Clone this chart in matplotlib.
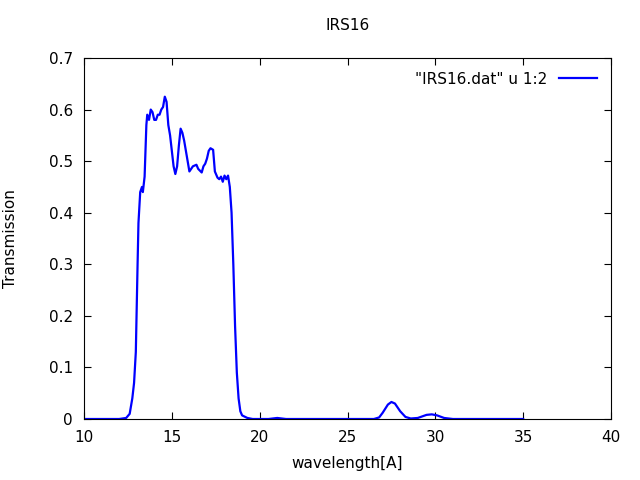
import matplotlib
matplotlib.use("Agg")
import matplotlib.pyplot as plt

wavelength = [10, 11, 12.0, 12.4, 12.6, 12.75, 12.85, 12.95, 13.05, 13.1, 13.2, 13.3, 13.35, 13.45, 13.55, 13.6, 13.7, 13.8, 13.9, 14.0, 14.1, 14.2, 14.3, 14.4, 14.5, 14.6, 14.7, 14.8, 14.9, 15.0, 15.1, 15.2, 15.3, 15.4, 15.5, 15.6, 15.7, 15.8, 15.9, 16.0, 16.1, 16.2, 16.4, 16.5, 16.7, 16.8, 16.9, 17.0, 17.1, 17.2, 17.35, 17.45, 17.6, 17.7, 17.8, 17.9, 18.0, 18.1, 18.2, 18.3, 18.4, 18.5, 18.6, 18.7, 18.8, 18.9, 19.0, 19.3, 19.6, 20.5, 21.0, 21.5, 26.5, 26.8, 27.0, 27.3, 27.5, 27.7, 28.0, 28.3, 28.6, 29.0, 29.5, 29.8, 30.1, 30.5, 31.0, 35.0]
transmission = [0, 0, 0.0, 0.002, 0.01, 0.04, 0.07, 0.13, 0.3, 0.38, 0.44, 0.45, 0.44, 0.47, 0.57, 0.59, 0.58, 0.60, 0.595, 0.58, 0.58, 0.59, 0.59, 0.60, 0.605, 0.625, 0.615, 0.57, 0.55, 0.52, 0.49, 0.475, 0.49, 0.53, 0.563, 0.555, 0.54, 0.52, 0.50, 0.48, 0.485, 0.49, 0.493, 0.485, 0.478, 0.49, 0.495, 0.505, 0.52, 0.525, 0.522, 0.48, 0.468, 0.465, 0.47, 0.46, 0.472, 0.465, 0.472, 0.45, 0.40, 0.30, 0.18, 0.09, 0.04, 0.015, 0.007, 0.002, 0.0, 0.0, 0.002, 0.0, 0.0, 0.003, 0.012, 0.028, 0.033, 0.03, 0.015, 0.004, 0.001, 0.002, 0.008, 0.009, 0.007, 0.002, 0.0, 0.0]

plt.rcParams['font.family'] = ['DejaVu Sans']
fig = plt.figure(figsize=(6.4, 4.8), dpi=100)
ax = fig.add_axes([84/640, 1-419/480, (611-84)/640, (419-58)/480])
ax.plot(wavelength, transmission, color='#0000ff', lw=1.6, label='"IRS16.dat" u 1:2')
ax.set_xlim(10, 40)
ax.set_ylim(0, 0.7)
ax.set_xticks(range(10, 41, 5))
ax.set_yticks([i/10 for i in range(8)])
ax.set_yticklabels(['0'] + [f'{i/10:.1f}' for i in range(1, 8)])
ax.tick_params(direction='in', top=True, right=True, labelsize=11, length=5)
ax.tick_params(axis='x', pad=8)
ax.tick_params(axis='y', pad=8)
ax.set_xlabel('wavelength[A]', fontsize=11, labelpad=8)
ax.set_ylabel('Transmission', fontsize=11, labelpad=22)
ax.set_title('IRS16', fontsize=11, pad=20)
ax.legend(loc='upper right', frameon=False, fontsize=11, handlelength=2.5, markerfirst=False)
fig.savefig('out.png', dpi=100)
